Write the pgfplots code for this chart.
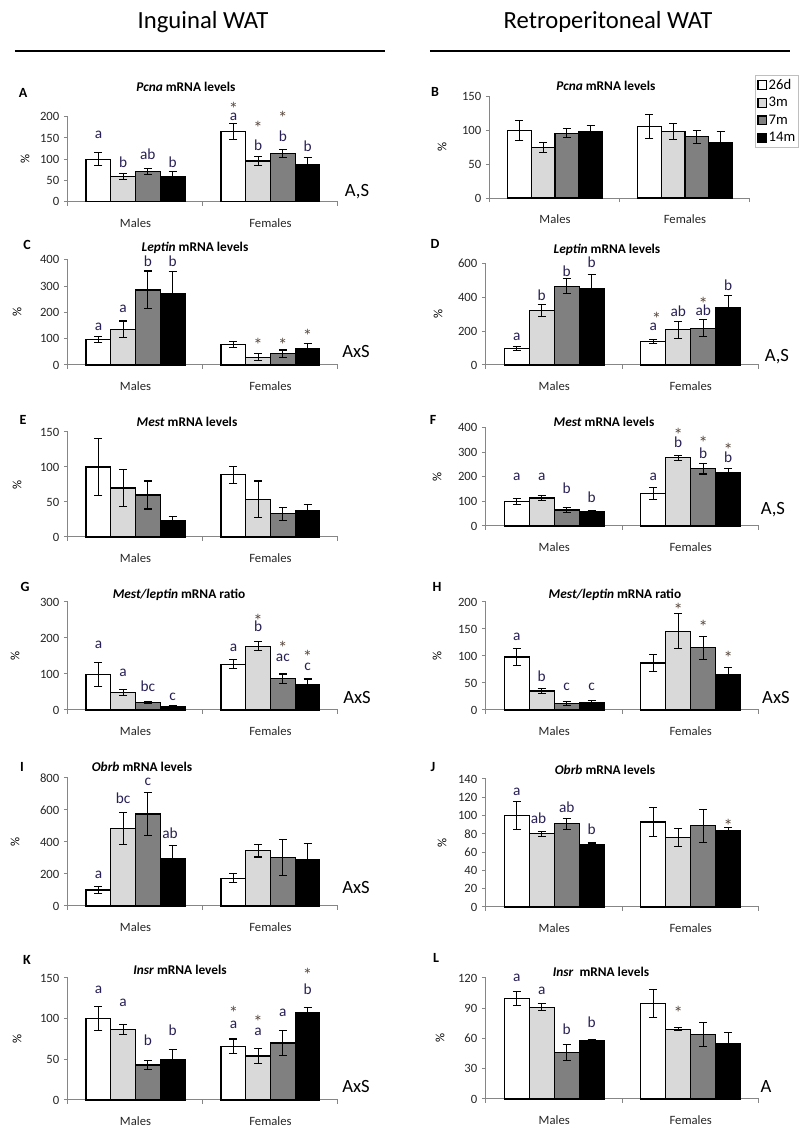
\documentclass[border=0pt]{standalone}
\usepackage{fontspec}
\setmainfont{Carlito}
\usepackage{pgfplots}
\pgfplotsset{compat=1.18}
\definecolor{axgray}{RGB}{134,134,134}
\definecolor{lg}{RGB}{217,217,217}
\definecolor{mg}{RGB}{128,128,128}
\definecolor{letc}{RGB}{40,32,85}
\definecolor{astc}{RGB}{90,75,65}
\newcommand{\tf}{\fontsize{9.5}{11}\selectfont}
\newcommand{\lf}{\fontsize{11.5}{13}\selectfont}
\newcommand{\af}{\fontsize{14}{15}\selectfont}
\newcommand{\ttlf}{\fontsize{10}{12}\selectfont\bfseries}
\newcommand{\sidef}{\fontsize{14}{16}\selectfont}
\newcommand{\Lt}[3]{\node[font=\lf,text=letc,inner sep=0pt] at (axis cs:#1,#2) {#3};}
\newcommand{\As}[2]{\node[font=\af,text=astc,inner sep=0pt,yshift=-2.8pt] at (axis cs:#1,#2) {*};}
\pgfplotsset{
 pan/.style={
  scale only axis, xmin=-0.5, xmax=1.5, ymin=0, clip=false,
  axis x line*=bottom, axis y line*=left,
  axis line style={draw=axgray, line width=0.75pt},
  xtick={-0.5,0.5,1.5}, xticklabels={},
  extra x ticks={0,1}, extra x tick labels={Males,Females},
  extra x tick style={major tick length=0pt, xticklabel style={yshift=-9pt}},
  tick align=outside, major tick length=3pt,
  tick style={draw=axgray, line width=0.75pt},
  ticklabel style={font=\tf, text=black!85},
  /pgf/number format/assume math mode=true,
  /pgf/number format/1000 sep={},
 },
 ebar/.style={/pgfplots/error bars/y dir=both, /pgfplots/error bars/y explicit,
  /pgfplots/error bars/error bar style={draw=black,line width=0.8pt},
  /pgfplots/error bars/error mark options={draw=black,rotate=90,mark size=3pt,line width=0.8pt}},
 bb/.style={ybar,bar width=0.183,bar shift=0pt,draw=black,line width=0.9pt,ebar},
 b1/.style={bb,fill=white},
 b2/.style={bb,fill=lg},
 b3/.style={bb,fill=mg},
 b4/.style={bb,fill=black},
}
% x positions: Males -0.2745 -0.0915 0.0915 0.2745 ; Females 0.7255 0.9085 1.0915 1.2745
\begin{document}
\begin{tikzpicture}
\begin{scope}[x=0.75pt,y=-0.75pt]
\path[use as bounding box] (0,0) rectangle (805,1130);
\node[font=\fontsize{18.5}{22}\selectfont] at (203,22) {Inguinal WAT};
\node[font=\fontsize{18.5}{22}\selectfont] at (608,22) {Retroperitoneal WAT};
\draw[line width=1.2pt] (15,51) -- (385,51);
\draw[line width=1.2pt] (430,51) -- (790,51);
\foreach \l/\x/\y in {A/23/93,B/435/92,C/27/245,D/435/244,E/23/420,F/433/420,G/25/587,H/437/587,I/22/767,J/433/767,K/27/960,L/436/958}
  \node[font=\fontsize{10.5}{12}\selectfont\bfseries] at (\x,\y) {\l};
\node[font=\ttlf] at (186,87) {\textit{Pcna} mRNA levels};
\node[font=\ttlf] at (606,86) {\textit{Pcna} mRNA levels};
\node[font=\ttlf] at (195,248) {\textit{Leptin} mRNA levels};
\node[font=\ttlf] at (607,250) {\textit{Leptin} mRNA levels};
\node[font=\ttlf] at (187,422) {\textit{Mest} mRNA levels};
\node[font=\ttlf] at (604,422) {\textit{Mest} mRNA levels};
\node[font=\ttlf] at (179,595) {\textit{Mest/leptin} mRNA ratio};
\node[font=\ttlf] at (615,595) {\textit{Mest/leptin} mRNA ratio};
\node[font=\ttlf] at (142,767) {\textit{Obrb} mRNA levels};
\node[font=\ttlf] at (605,770) {\textit{Obrb} mRNA levels};
\node[font=\ttlf] at (180,970) {\textit{Insr} mRNA levels};
\node[font=\ttlf] at (601,972) {\textit{Insr}\ \ mRNA levels};
\foreach \x/\y in {25/159,17/312,17/485,15/656,15/842,17/1039,442/147,438/314,437/477,437/656,442/843,440/1038}
  \node[font=\tf,rotate=90] at (\x,\y) {\%};
\node[font=\sidef] at (357,192) {A,S};
\node[font=\sidef] at (356,352) {AxS};
\node[font=\sidef] at (777,357) {A,S};
\node[font=\sidef] at (773,510) {A,S};
\node[font=\sidef] at (357,698) {AxS};
\node[font=\sidef] at (776,698) {AxS};
\node[font=\sidef] at (356,888) {AxS};
\node[font=\sidef] at (356,1087) {AxS};
\node[font=\sidef] at (766,1087) {A};
\end{scope}

% ---------------- A
\begin{axis}[pan, at={(51pt,-151.28pt)}, anchor=south west, width=202.5pt, height=63.75pt, ymax=200, ytick={0,50,...,200}]
\addplot[b1] coordinates {(-0.2745,100) +- (0,15) (0.7255,165) +- (0,18)};
\addplot[b2] coordinates {(-0.0915,60) +- (0,7) (0.9085,96) +- (0,11)};
\addplot[b3] coordinates {(0.0915,72) +- (0,7) (1.0915,114) +- (0,9)};
\addplot[b4] coordinates {(0.2745,60) +- (0,10) (1.2745,88) +- (0,15)};
\Lt{-0.2745}{157}{a}\Lt{-0.0915}{94}{b}\Lt{0.0915}{112}{ab}\Lt{0.2745}{94}{b}
\As{0.7255}{227}\Lt{0.7255}{200}{a}\As{0.9085}{183}\Lt{0.9085}{133}{b}
\As{1.0915}{206}\Lt{1.0915}{155}{b}\Lt{1.2745}{131}{b}
\end{axis}

% ---------------- B
\begin{axis}[pan, at={(367.5pt,-148.5pt)}, anchor=south west, width=195pt, height=76pt, ymax=150, ytick={0,50,...,150},
  legend style={at={(axis description cs:1.02,1.21)},anchor=north west, draw=gray!50, line width=0.4pt,
  font=\fontsize{11}{12}\selectfont, inner sep=1.5pt, row sep=2.5pt, nodes={inner sep=1pt}},
  legend cell align=left,
  legend image code/.code={\draw[#1,line width=0.8pt] (0pt,-3.3pt) rectangle (6.6pt,3.3pt);}]
\addplot[b1] coordinates {(-0.2745,100) +- (0,15) (0.7255,106) +- (0,18)};
\addplot[b2] coordinates {(-0.0915,75) +- (0,7) (0.9085,98) +- (0,12)};
\addplot[b3] coordinates {(0.0915,96) +- (0,6.5) (1.0915,90.5) +- (0,9.5)};
\addplot[b4] coordinates {(0.2745,98) +- (0,10) (1.2745,82) +- (0,16)};
\legend{26d,3m,7m,14m}
\end{axis}

% ---------------- C
\begin{axis}[pan, at={(51pt,-273.75pt)}, anchor=south west, width=202.5pt, height=79pt, ymax=400, ytick={0,100,...,400}]
\addplot[b1] coordinates {(-0.2745,97) +- (0,12) (0.7255,78) +- (0,13)};
\addplot[b2] coordinates {(-0.0915,135) +- (0,32) (0.9085,29) +- (0,13)};
\addplot[b3] coordinates {(0.0915,285) +- (0,72) (1.0915,43) +- (0,14)};
\addplot[b4] coordinates {(0.2745,272) +- (0,82) (1.2745,63) +- (0,20)};
\Lt{-0.2745}{146}{a}\Lt{-0.0915}{215}{a}\Lt{0.0915}{393}{b}\Lt{0.2745}{393}{b}
\As{0.9085}{92}\As{1.0915}{92}\As{1.2745}{123}
\end{axis}

% ---------------- D
\begin{axis}[pan, at={(364.5pt,-273.75pt)}, anchor=south west, width=204.75pt, height=76pt, ymax=600, ytick={0,200,...,600}]
\addplot[b1] coordinates {(-0.2745,97) +- (0,12) (0.7255,137) +- (0,12)};
\addplot[b2] coordinates {(-0.0915,323) +- (0,36) (0.9085,208) +- (0,52)};
\addplot[b3] coordinates {(0.0915,467) +- (0,46) (1.0915,218) +- (0,50)};
\addplot[b4] coordinates {(0.2745,450) +- (0,87) (1.2745,341) +- (0,68)};
\Lt{-0.2745}{168}{a}\Lt{-0.0915}{416}{b}\Lt{0.0915}{554}{b}\Lt{0.2745}{607}{b}
\Lt{0.7255}{228}{a}\As{0.75}{297}\Lt{0.9085}{317}{ab}\Lt{1.0915}{327}{ab}\As{1.0915}{386}\Lt{1.2745}{475}{b}
\end{axis}

% ---------------- E
\begin{axis}[pan, at={(51pt,-402.75pt)}, anchor=south west, width=202.5pt, height=78.75pt, ymax=150, ytick={0,50,...,150}]
\addplot[b1] coordinates {(-0.2745,100) +- (0,41) (0.7255,89) +- (0,12)};
\addplot[b2] coordinates {(-0.0915,70) +- (0,26) (0.9085,54) +- (0,26)};
\addplot[b3] coordinates {(0.0915,60) +- (0,20) (1.0915,33) +- (0,9)};
\addplot[b4] coordinates {(0.2745,24) +- (0,5) (1.2745,38) +- (0,8)};
\end{axis}

% ---------------- F
\begin{axis}[pan, at={(364.5pt,-394.5pt)}, anchor=south west, width=204.75pt, height=73.9pt, ymax=400, ytick={0,100,...,400}]
\addplot[b1] coordinates {(-0.2745,98) +- (0,12) (0.7255,132) +- (0,25)};
\addplot[b2] coordinates {(-0.0915,114) +- (0,10) (0.9085,277) +- (0,11)};
\addplot[b3] coordinates {(0.0915,65) +- (0,10) (1.0915,233) +- (0,22)};
\addplot[b4] coordinates {(0.2745,58) +- (0,4) (1.2745,217) +- (0,15)};
\Lt{-0.2745}{199}{a}\Lt{-0.0915}{199}{a}\Lt{0.0915}{155}{b}\Lt{0.2745}{118}{b}
\Lt{0.7255}{199}{a}\Lt{0.9085}{341}{b}\As{0.9085}{386}\Lt{1.0915}{297}{b}\As{1.0915}{351}
\Lt{1.2745}{280}{b}\As{1.2745}{325}
\end{axis}

% ---------------- G
\begin{axis}[pan, at={(51pt,-532.5pt)}, anchor=south west, width=202.5pt, height=81pt, ymax=300, ytick={0,100,...,300}]
\addplot[b1] coordinates {(-0.2745,98) +- (0,34) (0.7255,127) +- (0,12)};
\addplot[b2] coordinates {(-0.0915,48) +- (0,9) (0.9085,177) +- (0,12)};
\addplot[b3] coordinates {(0.0915,20) +- (0,3) (1.0915,87) +- (0,13)};
\addplot[b4] coordinates {(0.2745,10) +- (0,1.5) (1.2745,70) +- (0,16)};
\Lt{-0.2745}{181}{a}\Lt{-0.0915}{102}{a}\Lt{0.0915}{65}{bc}\Lt{0.2745}{37}{c}
\Lt{0.7255}{172}{a}\Lt{0.9085}{233}{b}\As{0.9085}{259}\As{1.0915}{184}\Lt{1.0915}{144}{ac}
\As{1.2745}{158}\Lt{1.2745}{121}{c}
\end{axis}

% ---------------- H
\begin{axis}[pan, at={(364.5pt,-532.5pt)}, anchor=south west, width=204.75pt, height=81pt, ymax=200, ytick={0,50,...,200}]
\addplot[b1] coordinates {(-0.2745,98) +- (0,16) (0.7255,87) +- (0,15)};
\addplot[b2] coordinates {(-0.0915,35) +- (0,4) (0.9085,146) +- (0,32)};
\addplot[b3] coordinates {(0.0915,12) +- (0,3) (1.0915,115) +- (0,21)};
\addplot[b4] coordinates {(0.2745,14) +- (0,3) (1.2745,66) +- (0,12)};
\Lt{-0.2745}{136}{a}\Lt{-0.0915}{62}{b}\Lt{0.0915}{42}{c}\Lt{0.2745}{42}{c}
\As{0.9085}{193}\As{1.0915}{161}\As{1.2745}{104}
\end{axis}

% ---------------- I
\begin{axis}[pan, at={(51pt,-679.5pt)}, anchor=south west, width=202.5pt, height=96pt, ymax=800, ytick={0,200,...,800}]
\addplot[b1] coordinates {(-0.2745,100) +- (0,20) (0.7255,173) +- (0,28)};
\addplot[b2] coordinates {(-0.0915,485) +- (0,98) (0.9085,346) +- (0,40)};
\addplot[b3] coordinates {(0.0915,575) +- (0,132) (1.0915,302) +- (0,113)};
\addplot[b4] coordinates {(0.2745,298) +- (0,80) (1.2745,288) +- (0,105)};
\Lt{-0.2745}{194}{a}\Lt{-0.0915}{673}{bc}\Lt{0.0915}{775}{c}\Lt{0.256}{454}{ab}
\end{axis}

% ---------------- J
\begin{axis}[pan, at={(364.5pt,-680.25pt)}, anchor=south west, width=204.75pt, height=96pt, ymax=140, ytick={0,20,...,140}]
\addplot[b1] coordinates {(-0.2745,100) +- (0,15) (0.7255,93) +- (0,16)};
\addplot[b2] coordinates {(-0.0915,80) +- (0,3) (0.9085,76) +- (0,10)};
\addplot[b3] coordinates {(0.0915,91) +- (0,6) (1.0915,89) +- (0,18)};
\addplot[b4] coordinates {(0.2745,68) +- (0,2) (1.2745,83) +- (0,4)};
\Lt{-0.2745}{126}{a}\Lt{-0.115}{97}{ab}\Lt{0.0915}{109}{ab}\Lt{0.2745}{85}{b}
\As{1.2745}{93}
\end{axis}

% ---------------- K
\begin{axis}[pan, at={(51pt,-825pt)}, anchor=south west, width=202.5pt, height=91.5pt, ymax=150, ytick={0,50,...,150}]
\addplot[b1] coordinates {(-0.2745,100) +- (0,15) (0.7255,66) +- (0,9)};
\addplot[b2] coordinates {(-0.0915,87) +- (0,6) (0.9085,54) +- (0,9)};
\addplot[b3] coordinates {(0.0915,43) +- (0,5) (1.0915,70) +- (0,15)};
\addplot[b4] coordinates {(0.2745,50) +- (0,12) (1.2745,108) +- (0,6)};
\Lt{-0.2745}{136}{a}\Lt{-0.0915}{119}{a}\Lt{0.0915}{74}{b}\Lt{0.2745}{86}{b}
\As{0.7255}{112}\Lt{0.7255}{92}{a}\As{0.9085}{101}\Lt{0.9085}{84}{a}\Lt{1.0915}{107}{a}
\As{1.2745}{158}\Lt{1.2745}{136}{b}
\end{axis}

% ---------------- L
\begin{axis}[pan, at={(364.5pt,-824.25pt)}, anchor=south west, width=204.75pt, height=90.75pt, ymax=120, ytick={0,30,...,120}]
\addplot[b1] coordinates {(-0.2745,100) +- (0,7) (0.7255,95) +- (0,14)};
\addplot[b2] coordinates {(-0.0915,91) +- (0,3.5) (0.9085,69) +- (0,1.5)};
\addplot[b3] coordinates {(0.0915,46) +- (0,8) (1.0915,64) +- (0,12)};
\addplot[b4] coordinates {(0.2745,58) +- (0,1) (1.2745,55) +- (0,11)};
\Lt{-0.2745}{120}{a}\Lt{-0.0915}{107}{a}\Lt{0.0915}{69}{b}\Lt{0.2745}{76}{b}
\As{0.9085}{89}
\end{axis}
\end{tikzpicture}
\end{document}
